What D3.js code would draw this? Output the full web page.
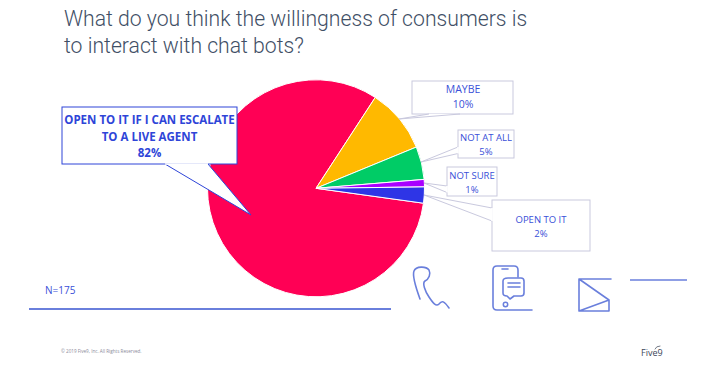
<!DOCTYPE html>
<html><head><meta charset="utf-8">
<script src="https://cdn.jsdelivr.net/npm/d3@7"></script>
<style>html,body{margin:0;padding:0;background:#fff}svg{display:block}text{font-family:"Open Sans","Noto Sans",sans-serif}</style>
</head><body><div id="c"></div>
<script>
const categories = ["OPEN TO IT IF I CAN ESCALATE TO A LIVE AGENT","MAYBE","NOT AT ALL","NOT SURE","OPEN TO IT"];
const values = [82,9.6,4.9,1.1,2.4];
const colors = ["#ff0055","#ffb900","#00cc66","#a900ff","#2e35e6"];
const titleLines = ["What do you think the willingness of consumers is","to interact with chat bots?"];

const W=711,H=369,cx=316,cy=188.3,R=108.5;
const svg=d3.select("#c").append("svg").attr("width",W).attr("height",H).attr("viewBox",`0 0 ${W} ${H}`);
svg.append("rect").attr("width",W).attr("height",H).attr("fill","#fff");

svg.selectAll(".t").data(titleLines).join("text").attr("class","t")
  .attr("x",64).attr("y",(d,i)=>25.5+i*27).attr("font-size",21.2).attr("font-weight",300).attr("fill","#3f4f66")
  .style("font-family","Roboto").text(d=>d);

const start=97.9*Math.PI/180;
const pie=d3.pie().sort(null).value(d=>d).startAngle(start).endAngle(start+2*Math.PI);
const arc=d3.arc().innerRadius(0).outerRadius(R);
svg.append("g").attr("transform",`translate(${cx},${cy})`)
  .selectAll("path").data(pie(values)).join("path")
  .attr("d",arc).attr("fill",(d,i)=>colors[i]).attr("stroke","#fff").attr("stroke-width",1);

const boxes=[
 {x:62,y:107,w:175,h:57,stroke:"#2e45d8",color:"#2e45d8",weight:700,size:11.5,
  lines:["OPEN TO IT IF I CAN ESCALATE","TO A LIVE AGENT","82%"],y0:124,dy:16.7,
  tail:[[165,164],[251,215],[208,164]],open:true},
 {x:412,y:81,w:101,h:33,stroke:"#c9c9de",color:"#3a50d8",weight:400,size:10.5,
  lines:["MAYBE","10%"],y0:93,dy:15,tail:[[429,114],[399,119],[460,114]],open:false,tx:463},
 {x:458,y:130,w:56,h:28,stroke:"#c9c9de",color:"#3a50d8",weight:400,size:9.5,
  lines:["NOT AT ALL","5%"],y0:141,dy:14,tail:[[458,147],[421,162],[458,153.5]],open:true},
 {x:447,y:167,w:50,h:29,stroke:"#c9c9de",color:"#3a50d8",weight:400,size:9.5,
  lines:["NOT SURE","1%"],y0:179,dy:14,tail:[[447,186],[424,183],[447,192.5]],open:true},
 {x:492,y:200,w:98,h:51,stroke:"#c9c9de",color:"#3a50d8",weight:400,size:9.5,
  lines:["OPEN TO IT","2%"],y0:223,dy:14,tail:[[492,208],[424,195],[492,221]],open:true}
];
const g=svg.append("g");
boxes.forEach(b=>{
  g.append("rect").attr("x",b.x).attr("y",b.y).attr("width",b.w).attr("height",b.h)
    .attr("fill","#fff").attr("stroke",b.stroke).attr("stroke-width",1);
  const n=b.tail;
  g.append("path").attr("d",d3.line()(n)).attr("fill","#fff").attr("stroke",b.stroke).attr("stroke-width",1);
  if(b.open) g.append("path").attr("d",d3.line()([n[0],n[2]])).attr("stroke","#fff").attr("stroke-width",1.6).attr("fill","none");
  g.selectAll(null).data(b.lines).join("text")
    .attr("x",b.tx||b.x+b.w/2).attr("y",(d,k)=>b.y0+k*b.dy).attr("text-anchor","middle")
    .attr("font-size",b.size).attr("font-weight",b.weight).attr("fill",b.color).text(d=>d);
});

svg.append("text").attr("x",45).attr("y",294).attr("font-size",10).attr("fill","#3a50d8").text("N=175");
const ic="#6a7fdc";
svg.append("line").attr("x1",29).attr("x2",391).attr("y1",309).attr("y2",309).attr("stroke",ic).attr("stroke-width",2);
svg.append("line").attr("x1",630).attr("x2",687).attr("y1",280).attr("y2",280).attr("stroke",ic).attr("stroke-width",1.6);
const icon=d=>svg.append("path").attr("d",d).attr("fill","none").attr("stroke",ic).attr("stroke-width",1.6).attr("stroke-linejoin","round").attr("stroke-linecap","round");
icon("M420 299 C416 288 412 276 414 271 C416 266 426 266 429 270 C431 274 429 279 425 281 C422 283 425 291 429 297 C433 303 436 307 439 304 C442 300 444 301 449 308");
icon("M532 310 H497 Q493 310 493 306 V270 Q493 266 497 266 H514 Q518 266 518 270 V277");
icon("M502 269 H508");
icon("M508 278 H521 Q524 278 524 281 V293 Q524 296 521 296 H514 L510 299 L507 296 Q503 296 503 293 V281 Q503 278 508 278");
icon("M508 283 H520 M508 287 H520");
svg.append("circle").attr("cx",505.5).attr("cy",304.5).attr("r",2.2).attr("fill","none").attr("stroke",ic).attr("stroke-width",1.5);
icon("M611 279 H579 V311 H609 V300 L579 279 M579 311 L609 300");
svg.append("text").attr("x",61).attr("y",353).attr("font-size",4.6).attr("fill","#8a8a9a").text("© 2019 Five9, Inc. All Rights Reserved.");
svg.append("text").attr("x",641).attr("y",356).attr("font-size",9).attr("fill","#3c4658").text("Five9");
icon("M655 349 Q656 346 660 346").attr("stroke","#3c4658").attr("stroke-width",0.7);
</script></body></html>
